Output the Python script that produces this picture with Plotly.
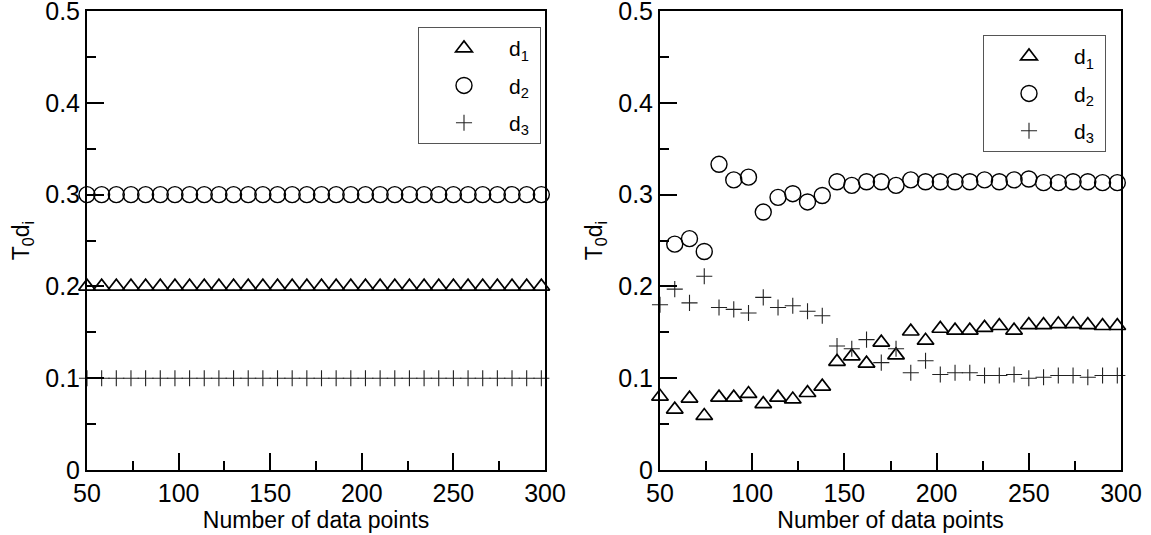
import plotly.graph_objects as go

# ---- data ----
n_points = [50, 58, 66, 74, 82, 90, 98, 106, 114, 122, 130, 138, 146, 154, 162, 170,
            178, 186, 194, 202, 210, 218, 226, 234, 242, 250, 258, 266, 274, 282, 290, 298]

left_d1 = [0.2] * 32
left_d2 = [0.3] * 32
left_d3 = [0.1] * 32

right_d1 = [0.080, 0.066, 0.078, 0.059, 0.079, 0.079, 0.083, 0.072, 0.079, 0.077, 0.084, 0.091,
            0.118, 0.124, 0.116, 0.139, 0.125, 0.151, 0.141, 0.154, 0.152, 0.152, 0.155, 0.157,
            0.152, 0.158, 0.158, 0.159, 0.159, 0.158, 0.157, 0.157]
right_d2 = [-0.005, 0.246, 0.252, 0.238, 0.333, 0.316, 0.319, 0.281, 0.297, 0.301, 0.292, 0.299,
            0.314, 0.310, 0.314, 0.314, 0.310, 0.316, 0.314, 0.314, 0.314, 0.314, 0.316, 0.314,
            0.316, 0.317, 0.313, 0.313, 0.314, 0.314, 0.313, 0.313]
right_d3 = [0.180, 0.197, 0.182, 0.211, 0.177, 0.175, 0.171, 0.188, 0.177, 0.179, 0.173, 0.168,
            0.135, 0.132, 0.142, 0.117, 0.132, 0.106, 0.119, 0.104, 0.106, 0.106, 0.103, 0.103,
            0.104, 0.100, 0.101, 0.103, 0.103, 0.101, 0.103, 0.103]

series_names = ["d<sub>1</sub>&nbsp;", "d<sub>2</sub>&nbsp;", "d<sub>3</sub>&nbsp;"]

FONT = "Liberation Sans, Arial, sans-serif"

styles = [
    dict(symbol="triangle-up-open", size=14.5, color="black", line=dict(width=1.7, color="black")),
    dict(symbol="circle-open", size=16, color="black", line=dict(width=1.4, color="black")),
    dict(symbol="cross-thin-open", size=11.5, color="#222", line=dict(width=1.1, color="#222")),
]

fig = go.Figure()

panels = [
    ("x", "y", "legend", [left_d1, left_d2, left_d3]),
    ("x2", "y2", "legend2", [right_d1, right_d2, right_d3]),
]
for xa, ya, lg, data in panels:
    for i, (name, vals) in enumerate(zip(series_names, data)):
        fig.add_trace(go.Scatter(
            x=n_points, y=vals, mode="markers", name=name,
            marker=styles[i], xaxis=xa, yaxis=ya, legend=lg,
            legendgroup=f"{lg}_{i}", cliponaxis=False, showlegend=True,
        ))

W, H = 1151, 535
lx = [87 / W, 545 / W]
rx = [660 / W, 1121 / W]
yd = [65 / H, 524 / H]

TICKSIZE = 25

xaxis_common = dict(
    range=[50, 300], dtick=50, tick0=50, ticks="inside", ticklen=17, tickwidth=2,
    tickcolor="black", showline=True, linecolor="black", linewidth=2, mirror=True,
    showgrid=False, zeroline=False, automargin=False, ticklabeloverflow="allow",
    minor=dict(dtick=25, ticks="inside", ticklen=9, tickwidth=2, tickcolor="black", showgrid=False),
    tickfont=dict(family=FONT, size=TICKSIZE, color="black"),
    title=dict(text="Number of data points", font=dict(family=FONT, size=23, color="black"), standoff=3),
)
yaxis_common = dict(
    range=[0, 0.5], dtick=0.1, tick0=0, ticks="inside", ticklen=17, tickwidth=2,
    tickcolor="black", showline=True, linecolor="black", linewidth=2, mirror=True,
    showgrid=False, zeroline=False, automargin=False, ticklabeloverflow="allow",
    minor=dict(dtick=0.05, ticks="inside", ticklen=9, tickwidth=2, tickcolor="black", showgrid=False),
    tickfont=dict(family=FONT, size=TICKSIZE, color="black"),
    title=dict(text="T<sub>0</sub>d<sub>i</sub>", font=dict(family=FONT, size=23, color="black"), standoff=9),
)

legend_common = dict(
    bgcolor="white", bordercolor="#555", borderwidth=1,
    font=dict(family=FONT, size=21, color="black"),
    itemwidth=80, tracegroupgap=7, xanchor="left", yanchor="top",
    orientation="v",
)

fig.update_layout(
    width=W, height=H,
    margin=dict(l=0, r=0, t=0, b=0),
    paper_bgcolor="white", plot_bgcolor="white",
    xaxis=dict(domain=lx, anchor="y", **xaxis_common),
    yaxis=dict(domain=yd, anchor="x", **yaxis_common),
    xaxis2=dict(domain=rx, anchor="y2", **xaxis_common),
    yaxis2=dict(domain=yd, anchor="x2", **yaxis_common),
    legend=dict(x=418 / W, y=1 - 27 / H, **legend_common),
    legend2=dict(x=983 / W, y=1 - 35 / H, **legend_common),
    showlegend=True,
)

fig.write_html(
    "out.html",
    config={"displayModeBar": False},
    post_script="document.body.style.margin='0px';document.body.style.overflow='hidden';",
)
